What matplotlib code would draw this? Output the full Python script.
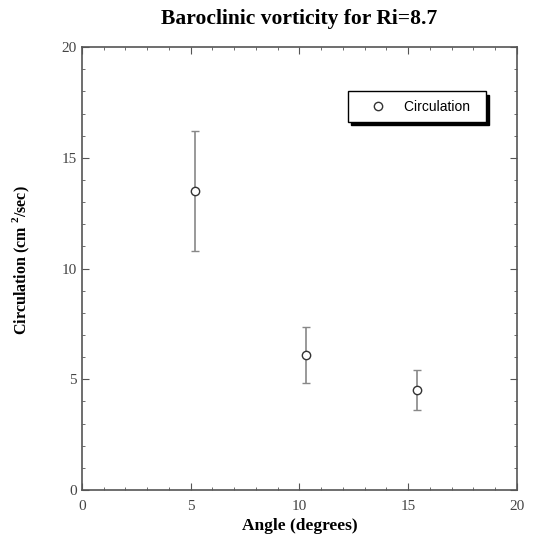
import matplotlib
matplotlib.use('Agg')
from matplotlib import pyplot as plt
from matplotlib.ticker import MultipleLocator
from matplotlib.lines import Line2D

plt.rcParams['font.family'] = ['Liberation Serif', 'DejaVu Serif']
plt.rcParams['mathtext.fontset'] = 'custom'
plt.rcParams['mathtext.rm'] = 'Liberation Serif'
plt.rcParams['mathtext.bf'] = 'Liberation Serif:bold'

# 数据
angle = [5.2, 10.3, 15.4]
circulation = [13.5, 6.1, 4.5]
err = [2.7, 1.25, 0.9]

fig = plt.figure(figsize=(5.35, 5.49), dpi=100)
ax = fig.add_axes([0.153, 0.1075, 0.813, 0.8065])

ax.errorbar(angle, circulation, yerr=err, fmt='o', mfc='white', mec='#333333',
            ms=6, mew=1.0, ecolor='#888888', elinewidth=1.2, capsize=3,
            capthick=1.0)

ax.set_xlim(0, 20)
ax.set_ylim(0, 20)
ax.xaxis.set_major_locator(MultipleLocator(5))
ax.xaxis.set_minor_locator(MultipleLocator(1))
ax.yaxis.set_major_locator(MultipleLocator(5))
ax.yaxis.set_minor_locator(MultipleLocator(1))
ax.tick_params(which='both', direction='in', top=True, right=True,
               colors='#555555', labelcolor='#444444', labelsize=11)
ax.tick_params(axis='x', which='major', pad=7)
ax.tick_params(which='major', length=5)
ax.tick_params(which='minor', length=2.5)
for s in ax.spines.values():
    s.set_color('#555555')
    s.set_linewidth(1.2)

ax.set_title('Baroclinic vorticity for Ri=8.7', fontsize=15.5, fontweight='bold', pad=17)
ax.set_xlabel('Angle (degrees)', fontsize=12.5, fontweight='bold', labelpad=4)
ax.set_ylabel(r'Circulation (cm $^{\mathbf{2}}$/sec)', fontsize=11.5,
              fontweight='bold')
ax.yaxis.set_label_coords(-0.115, 0.52)

handle = Line2D([], [], marker='o', ls='none', mfc='white', mec='#333333', ms=6, mew=1.0)
leg = ax.legend([handle], ['Circulation  '], loc='upper right',
                bbox_to_anchor=(0.929, 0.90), fancybox=False, edgecolor='black',
                shadow={'color': 'black', 'alpha': 1, 'ox': 2.2, 'oy': -2.2},
                prop={'family': 'Liberation Sans', 'size': 10}, borderpad=0.6,
                handlelength=3.2, handletextpad=0.25, borderaxespad=0)
leg.get_frame().set_linewidth(1.0)

plt.savefig('out.png', dpi=100)
